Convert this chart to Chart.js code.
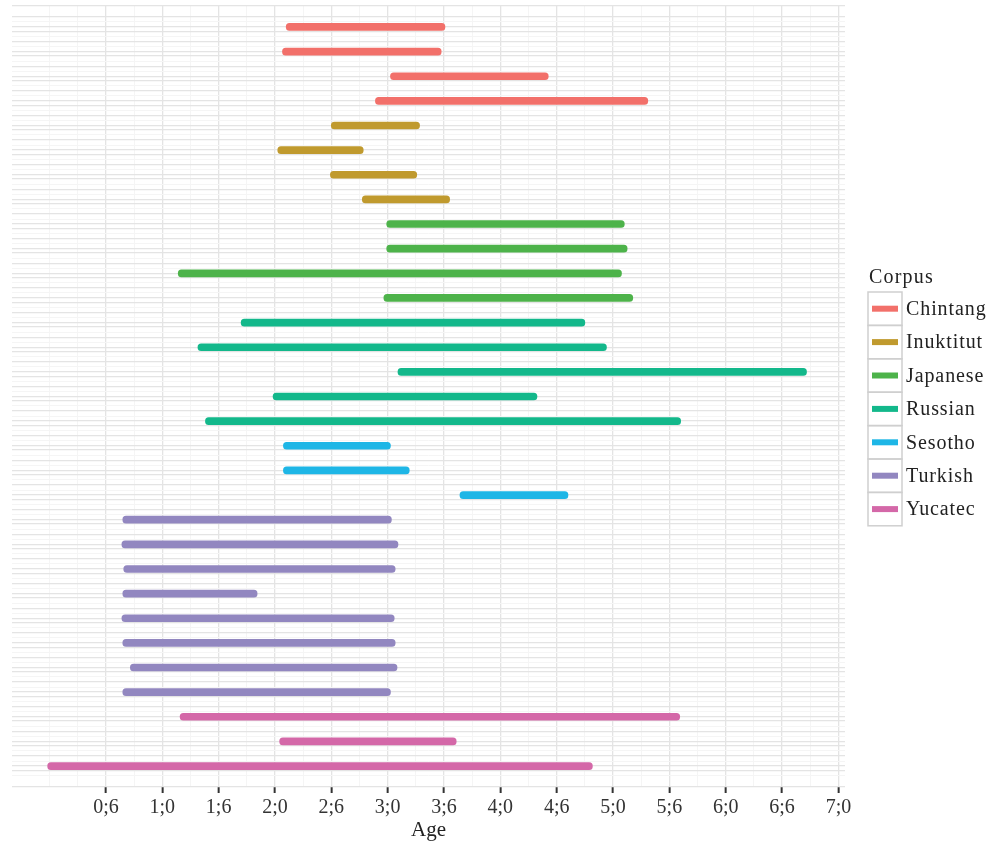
<!DOCTYPE html>
<html>
<head>
<meta charset="utf-8">
<title>Recording age span per child</title>
<script src="https://cdn.jsdelivr.net/npm/chart.js@4.4.1/dist/chart.umd.min.js"></script>
<style>
  html, body { margin: 0; padding: 0; background: #ffffff; }
  #wrap { width: 994px; height: 846px; }
</style>
</head>
<body>
<div id="wrap"><canvas id="c" width="994" height="846" style="width:994px;height:846px"></canvas></div>
<script>
// Corpora and their colours
const corpora = ['Chintang', 'Inuktitut', 'Japanese', 'Russian', 'Sesotho', 'Turkish', 'Yucatec'];
const corpusColors = ['#F2706A', '#C09A2E', '#4DB34A', '#13B88B', '#1EB6E6', '#9287C0', '#D468A8'];

// One entry per child, top to bottom
const childCorpus = [
  'Chintang', 'Chintang', 'Chintang', 'Chintang',
  'Inuktitut', 'Inuktitut', 'Inuktitut', 'Inuktitut',
  'Japanese', 'Japanese', 'Japanese', 'Japanese',
  'Russian', 'Russian', 'Russian', 'Russian', 'Russian',
  'Sesotho', 'Sesotho', 'Sesotho',
  'Turkish', 'Turkish', 'Turkish', 'Turkish', 'Turkish', 'Turkish', 'Turkish', 'Turkish',
  'Yucatec', 'Yucatec', 'Yucatec'
];
// First and last recording age, in months
const ageStartMonths = [
  25.2, 24.8, 36.3, 34.7,
  30.0, 24.3, 29.9, 33.3,
  35.9, 35.9, 13.7, 35.6,
  20.4, 15.8, 37.1, 23.8, 16.6,
  24.9, 24.9, 43.7,
  7.8, 7.7, 7.9, 7.8, 7.7, 7.8, 8.6, 7.8,
  13.9, 24.5, -0.2
];
const ageEndMonths = [
  42.1, 41.7, 53.1, 63.7,
  39.4, 33.4, 39.1, 42.6,
  61.2, 61.5, 60.9, 62.1,
  57.0, 59.3, 80.6, 51.9, 67.2,
  36.3, 38.3, 55.2,
  36.4, 37.1, 36.8, 22.1, 36.7, 36.8, 37.0, 36.3,
  67.1, 43.3, 57.8
];

// Age axis ticks (months) and their year;month labels
const ageTickMonths = [6, 12, 18, 24, 30, 36, 42, 48, 54, 60, 66, 72, 78, 84];
const ageTickLabels = ['0;6', '1;0', '1;6', '2;0', '2;6', '3;0', '3;6', '4;0', '4;6', '5;0', '5;6', '6;0', '6;6', '7;0'];

const FONT = '"Liberation Serif", "Times New Roman", serif';
const GRID_MAJOR = '#e4e4e4';
const GRID_MINOR = '#f5f5f5';

const nChildren = childCorpus.length;

const datasets = corpora.map((name, ci) => ({
  label: name,
  backgroundColor: corpusColors[ci],
  borderWidth: 0,
  borderRadius: 3.5,
  borderSkipped: false,
  barThickness: 7,
  data: childCorpus
    .map((c, i) => c === name ? { y: i, x: [ageStartMonths[i], ageEndMonths[i]] } : null)
    .filter(d => d !== null)
}));

// Legend drawn to the right of the plot panel
const corpusLegend = {
  id: 'corpusLegend',
  afterDraw(chart) {
    const ctx = chart.ctx;
    const area = chart.chartArea;
    const x0 = area.right + 23;
    const boxW = 34, boxH = 33.4, top = 292;
    ctx.save();
    ctx.font = '20px ' + FONT;
    ctx.textBaseline = 'middle';
    ctx.textAlign = 'left';
    ctx.fillStyle = '#222222';
    if ('letterSpacing' in ctx) ctx.letterSpacing = '1.2px';
    ctx.fillText('Corpus', x0 + 1, 278);
    if ('letterSpacing' in ctx) ctx.letterSpacing = '0.9px';
    corpora.forEach((name, i) => {
      const y = top + i * boxH;
      ctx.strokeStyle = '#cfcfcf';
      ctx.lineWidth = 1.5;
      ctx.strokeRect(x0, y, boxW, boxH);
      ctx.strokeStyle = corpusColors[i];
      ctx.lineWidth = 6;
      ctx.lineCap = 'butt';
      ctx.beginPath();
      ctx.moveTo(x0 + 4, y + boxH / 2);
      ctx.lineTo(x0 + boxW - 4, y + boxH / 2);
      ctx.stroke();
      ctx.fillStyle = '#222222';
      ctx.fillText(name, x0 + 38, y + boxH / 2 + 1);
    });
    ctx.restore();
  }
};

new Chart(document.getElementById('c'), {
  type: 'bar',
  data: { datasets },
  options: {
    responsive: false,
    animation: false,
    indexAxis: 'y',
    layout: { padding: { left: 12, right: 149, top: 6, bottom: 0 } },
    datasets: { bar: { grouped: false } },
    plugins: {
      legend: { display: false },
      tooltip: { enabled: false }
    },
    scales: {
      x: {
        type: 'linear',
        min: -4.0,
        max: 84.7,
        border: { display: false },
        afterBuildTicks(scale) {
          const t = [];
          for (let m = 0; m <= 84; m += 3) {
            const k = ageTickMonths.indexOf(m);
            t.push({ value: m, major: k >= 0, text: k >= 0 ? ageTickLabels[k] : '' });
          }
          scale.ticks = t;
        },
        afterFit(scale) { scale.height = 59; },
        grid: {
          color: c => (c.tick && c.tick.major) ? GRID_MAJOR : GRID_MINOR,
          lineWidth: c => (c.tick && c.tick.major) ? 1.3 : 1,
          tickColor: c => (c.tick && c.tick.major) ? '#333333' : 'rgba(0,0,0,0)',
          tickWidth: 2,
          tickLength: 6
        },
        ticks: {
          autoSkip: false,
          maxRotation: 0,
          padding: 3,
          color: '#333333',
          font: { family: FONT, size: 20 },
          callback: (v, i, ticks) => ticks[i].text
        },
        title: {
          display: true,
          text: 'Age',
          color: '#222222',
          font: { family: FONT, size: 21 },
          padding: { top: 0, bottom: 3 }
        }
      },
      y: {
        type: 'linear',
        reverse: true,
        min: -0.85,
        max: nChildren - 1 + 0.85,
        offset: false,
        border: { display: false },
        afterBuildTicks(scale) {
          const t = [{ value: -0.85, major: true }];
          for (let r = 0; r < nChildren; r++) {
            t.push({ value: r - 0.406, major: true });
            t.push({ value: r - 0.203, major: false });
            t.push({ value: r, major: true });
            t.push({ value: r + 0.175, major: true });
            t.push({ value: r + 0.384, major: false });
          }
          t.push({ value: nChildren - 1 + 0.85, major: true });
          t.sort((a, b) => a.value - b.value);
          scale.ticks = t;
        },
        afterFit(scale) { scale.width = 0; },
        grid: {
          offset: false,
          drawTicks: false,
          color: c => (c.tick && c.tick.major) ? GRID_MAJOR : GRID_MINOR,
          lineWidth: c => (c.tick && c.tick.major) ? 1.3 : 1
        },
        ticks: { display: false }
      }
    }
  },
  plugins: [corpusLegend]
});
</script>
</body>
</html>
